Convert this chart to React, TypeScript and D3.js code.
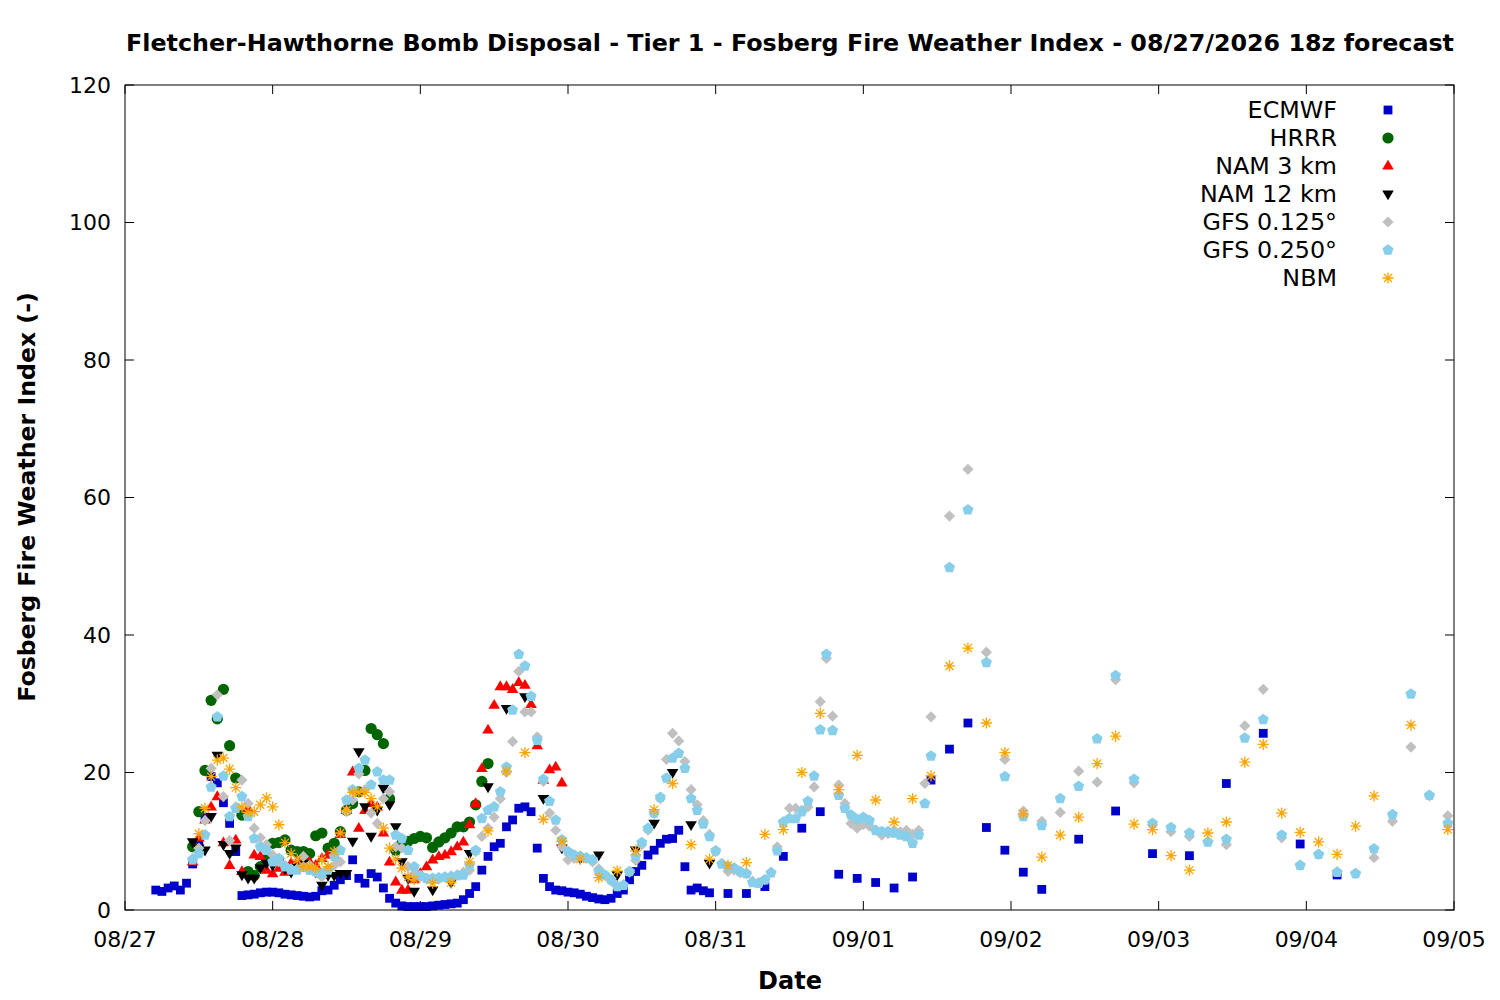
import React from "react";
import * as d3 from "d3";

// hours after 08/27 00z, Fosberg index
const T0 = Date.UTC(2026, 7, 27);
const toDate = (h: number) => new Date(T0 + h * 3600e3);

const ecmwf: [number, number][] = [
  [5, 2.9], [6, 2.7], [7, 3.2], [8, 3.5], [9, 2.9], [10, 3.9], [11, 6.7], [12, 9.5], [13, 13.5], [14, 19.4],
  [15, 18.5], [16, 15.6], [17, 12.6], [18, 8.5], [19, 2.1], [20, 2.2], [21, 2.3], [22, 2.5], [23, 2.6], [24, 2.6],
  [25, 2.5], [26, 2.3], [27, 2.2], [28, 2.1], [29, 2.0], [30, 1.9], [31, 2.0], [32, 2.8], [33, 2.9], [34, 3.6],
  [35, 4.4], [36, 5.0], [37, 7.3], [38, 4.6], [39, 3.9], [40, 5.3], [41, 4.8], [42, 3.2], [43, 1.7], [44, 1.0],
  [45, 0.6], [46, 0.5], [47, 0.5], [48, 0.5], [49, 0.5], [50, 0.6], [51, 0.7], [52, 0.8], [53, 0.9], [54, 1.0],
  [55, 1.5], [56, 2.4], [57, 3.4], [58, 5.8], [59, 7.8], [60, 9.2], [61, 9.7], [62, 12.1], [63, 13.1], [64, 14.8],
  [65, 15.0], [66, 14.3], [67, 9.0], [68, 4.6], [69, 3.4], [70, 2.9], [71, 2.8], [72, 2.6], [73, 2.5], [74, 2.3],
  [75, 2.0], [76, 1.8], [77, 1.6], [78, 1.5], [79, 1.7], [80, 2.4], [81, 2.9], [82, 4.4], [83, 5.6], [84, 6.5],
  [85, 8.0], [86, 8.7], [87, 9.7], [88, 10.3], [89, 10.4], [90, 11.6], [91, 6.3], [92, 2.9], [93, 3.2], [94, 2.8],
  [95, 2.5], [98, 2.4], [101, 2.4], [104, 3.4], [107, 7.8], [110, 11.9], [113, 14.3], [116, 5.2], [119, 4.6],
  [122, 4.0], [125, 3.2], [128, 4.8], [131, 18.9], [134, 23.4], [137, 27.2], [140, 12.0], [143, 8.7], [146, 5.5],
  [149, 3.0], [155, 10.3], [161, 14.4], [167, 8.2], [173, 7.9], [179, 18.4], [185, 25.7], [191, 9.6], [197, 5.1],
];

const hrrr: [number, number][] = [
  [11, 9.2], [12, 14.3], [13, 20.3], [14, 30.5], [15, 27.8], [16, 32.1], [17, 23.9], [18, 19.2], [19, 13.8],
  [20, 5.6], [21, 5.0], [22, 6.3], [23, 7.5], [24, 9.7], [25, 9.8], [26, 10.2], [27, 8.7], [28, 8.5], [29, 8.5],
  [30, 8.2], [31, 10.8], [32, 11.2], [33, 9.0], [34, 9.7], [35, 11.4], [36, 14.5], [37, 15.5], [38, 17.2],
  [39, 20.3], [40, 26.4], [41, 25.5], [42, 24.2], [43, 16.2], [44, 8.7], [45, 9.7], [46, 10.0], [47, 10.4],
  [48, 10.7], [49, 10.5], [50, 9.1], [51, 9.9], [52, 10.5], [53, 11.2], [54, 12.1], [55, 12.1], [56, 12.8],
  [57, 15.3], [58, 18.7], [59, 21.3],
];

const nam3: [number, number][] = [
  [11, 7.0], [12, 10.5], [13, 13.1], [14, 15.0], [15, 16.5], [16, 9.8], [17, 6.5], [18, 10.2], [19, 5.6],
  [20, 14.8], [21, 8.0], [22, 7.8], [23, 5.8], [24, 5.3], [25, 6.1], [26, 5.5], [27, 6.8], [28, 7.0], [29, 7.8],
  [30, 7.0], [31, 6.5], [32, 7.5], [33, 8.0], [34, 8.0], [35, 11.0], [36, 14.5], [37, 20.1], [38, 11.9],
  [39, 14.5], [40, 15.5], [41, 15.0], [42, 11.2], [43, 7.0], [44, 4.1], [45, 2.9], [46, 2.9], [47, 4.4],
  [48, 5.3], [49, 6.3], [50, 7.3], [51, 7.8], [52, 8.0], [53, 8.5], [54, 9.2], [55, 9.9], [56, 12.4], [57, 15.5],
  [58, 20.6], [59, 26.2], [60, 29.8], [61, 32.5], [62, 32.5], [63, 32.1], [64, 33.1], [65, 32.7], [66, 29.9],
  [67, 23.9], [68, 18.9], [69, 20.4], [70, 20.8], [71, 18.5],
];

const nam12: [number, number][] = [
  [11, 9.9], [12, 9.0], [13, 8.7], [14, 13.6], [15, 22.5], [16, 9.5], [17, 8.2], [18, 9.0], [19, 5.1],
  [20, 4.6], [21, 4.6], [22, 6.1], [23, 6.8], [24, 6.5], [25, 7.0], [26, 6.0], [27, 5.5], [28, 6.2], [29, 6.8],
  [30, 6.0], [31, 5.5], [32, 3.6], [33, 5.0], [34, 5.0], [35, 5.3], [36, 5.3], [37, 10.0], [38, 23.0],
  [39, 15.0], [40, 10.7], [41, 14.5], [42, 17.7], [43, 15.3], [44, 12.1], [45, 7.0], [46, 4.6], [47, 2.7],
  [50, 2.9], [53, 4.0], [56, 8.2], [59, 17.9], [62, 29.3], [65, 31.0], [68, 16.2], [71, 9.0], [74, 7.5],
  [77, 8.0], [80, 5.1], [83, 8.7], [86, 12.6], [89, 20.0], [92, 12.4], [95, 6.8],
];

const gfs0125: [number, number][] = [
  [11, 7.5], [12, 9.0], [13, 13.0], [14, 20.6], [15, 31.3], [16, 16.5], [17, 10.1], [18, 15.0], [19, 18.9],
  [20, 15.5], [21, 11.9], [22, 10.5], [23, 9.5], [24, 8.0], [25, 7.0], [26, 6.5], [27, 6.0], [28, 6.0], [29, 7.8],
  [30, 6.5], [31, 5.5], [32, 4.8], [33, 6.0], [34, 6.5], [35, 7.0], [36, 14.3], [37, 16.0], [38, 19.8],
  [39, 17.5], [40, 14.1], [41, 12.6], [42, 16.2], [43, 17.2], [44, 9.2], [45, 9.0], [46, 6.3], [47, 5.3],
  [48, 4.8], [49, 4.5], [50, 4.4], [51, 4.5], [52, 4.8], [53, 5.0], [54, 5.1], [55, 5.5], [56, 5.8], [57, 8.5],
  [58, 10.7], [59, 11.9], [60, 13.5], [61, 16.2], [62, 20.0], [63, 24.5], [64, 34.7], [65, 28.8], [66, 28.8],
  [67, 25.2], [68, 18.7], [69, 14.1], [70, 11.6], [71, 9.2], [72, 7.3], [73, 7.5], [74, 7.8], [75, 7.5],
  [76, 7.0], [77, 6.0], [78, 5.0], [79, 4.2], [80, 3.5], [81, 3.7], [82, 5.5], [83, 7.2], [84, 9.5], [85, 11.6],
  [86, 14.0], [87, 16.2], [88, 21.9], [89, 25.7], [90, 24.6], [91, 21.6], [92, 17.5], [93, 15.3], [94, 13.0],
  [95, 11.0], [96, 8.5], [97, 6.8], [98, 5.6], [99, 5.8], [100, 5.4], [101, 5.3], [102, 4.2], [103, 4.0],
  [104, 4.4], [105, 5.5], [106, 9.2], [107, 12.8], [108, 14.8], [109, 14.8], [110, 14.5], [111, 15.0],
  [112, 17.9], [113, 30.3], [114, 36.6], [115, 28.2], [116, 18.2], [117, 15.5], [118, 12.6], [119, 11.9],
  [120, 12.4], [121, 12.2], [122, 11.6], [123, 10.9], [124, 11.1], [125, 11.6], [126, 11.4], [127, 11.6],
  [128, 11.0], [129, 11.6], [130, 18.4], [131, 28.1], [134, 57.3], [137, 64.1], [140, 37.5], [143, 21.9],
  [146, 14.4], [149, 12.9], [152, 14.2], [155, 20.2], [158, 18.6], [161, 33.5], [164, 18.5], [167, 12.4],
  [170, 11.4], [173, 10.7], [176, 10.0], [179, 9.5], [182, 26.8], [185, 32.1], [188, 10.5], [191, 6.5],
  [194, 8.1], [197, 5.6], [200, 5.3], [203, 7.6], [206, 12.9], [209, 23.7], [212, 16.6], [215, 13.7],
];

const gfs0250: [number, number][] = [
  [11, 7.3], [12, 8.2], [13, 10.9], [14, 17.9], [15, 28.1], [16, 19.5], [17, 13.6], [18, 14.8], [19, 16.5],
  [20, 13.6], [21, 10.4], [22, 9.2], [23, 8.7], [24, 7.0], [25, 7.5], [26, 6.3], [27, 5.8], [28, 5.8], [29, 6.2],
  [30, 5.8], [31, 5.6], [32, 5.3], [33, 5.8], [34, 7.8], [35, 8.7], [36, 16.0], [37, 17.5], [38, 20.6],
  [39, 21.8], [40, 18.2], [41, 20.1], [42, 18.9], [43, 18.9], [44, 10.9], [45, 10.4], [46, 8.7], [47, 6.3],
  [48, 5.0], [49, 4.6], [50, 4.6], [51, 4.7], [52, 4.8], [53, 4.8], [54, 5.0], [55, 5.1], [56, 6.5], [57, 8.7],
  [58, 13.3], [59, 14.5], [60, 15.0], [61, 17.2], [62, 20.8], [63, 29.1], [64, 37.2], [65, 35.5], [66, 31.1],
  [67, 24.7], [68, 19.0], [69, 15.8], [70, 13.1], [71, 10.2], [72, 8.5], [73, 8.0], [74, 7.8], [75, 7.6],
  [76, 7.3], [77, 5.6], [78, 5.1], [79, 4.4], [80, 3.4], [81, 3.6], [82, 5.6], [83, 7.8], [84, 9.8], [85, 11.9],
  [86, 14.1], [87, 16.4], [88, 19.2], [89, 22.1], [90, 22.8], [91, 20.6], [92, 16.2], [93, 14.5], [94, 12.5],
  [95, 10.7], [96, 8.6], [97, 6.7], [98, 6.3], [99, 6.1], [100, 5.6], [101, 5.3], [102, 4.0], [103, 3.9],
  [104, 4.4], [105, 5.4], [106, 8.6], [107, 12.8], [108, 13.3], [109, 13.3], [110, 14.3], [111, 15.8],
  [112, 19.5], [113, 26.2], [114, 37.2], [115, 26.1], [116, 16.7], [117, 14.8], [118, 13.8], [119, 13.2],
  [120, 13.5], [121, 13.0], [122, 11.6], [123, 11.4], [124, 11.4], [125, 11.2], [126, 10.9], [127, 10.7],
  [128, 9.7], [129, 10.9], [130, 15.5], [131, 22.4], [134, 49.8], [137, 58.2], [140, 36.0], [143, 19.4],
  [146, 13.6], [149, 12.3], [152, 16.2], [155, 18.0], [158, 24.9], [161, 34.1], [164, 19.0], [167, 12.6],
  [170, 12.0], [173, 11.2], [176, 9.9], [179, 10.3], [182, 25.0], [185, 27.7], [188, 10.9], [191, 6.5],
  [194, 8.1], [197, 5.5], [200, 5.3], [203, 8.9], [206, 13.9], [209, 31.4], [212, 16.7], [215, 12.6],
];

const nbm: [number, number][] = [
  [12, 11.1], [13, 14.8], [14, 19.4], [15, 21.8], [16, 22.1], [17, 20.5], [18, 17.8], [19, 15.0], [20, 14.2],
  [21, 14.3], [22, 15.3], [23, 16.3], [24, 15.0], [25, 12.4], [26, 9.8], [27, 8.2], [28, 7.3], [29, 6.3],
  [30, 6.3], [31, 6.1], [32, 7.3], [33, 6.3], [34, 8.5], [35, 11.2], [36, 14.5], [37, 17.1], [38, 17.1],
  [39, 17.1], [40, 16.2], [41, 15.0], [42, 11.9], [43, 9.0], [44, 7.4], [45, 6.1], [46, 4.8], [47, 4.4],
  [50, 3.9], [53, 4.0], [56, 7.0], [59, 11.5], [62, 20.2], [65, 22.9], [68, 13.2], [71, 10.0], [74, 7.4],
  [77, 4.7], [80, 5.7], [83, 8.6], [86, 14.6], [89, 18.4], [92, 9.5], [95, 7.4], [98, 6.5], [101, 6.9],
  [104, 11.0], [107, 11.7], [110, 20.0], [113, 28.6], [116, 17.5], [119, 22.5], [122, 16.0], [125, 12.8],
  [128, 16.2], [131, 19.5], [134, 35.5], [137, 38.1], [140, 27.2], [143, 22.9], [146, 14.0], [149, 7.7],
  [152, 10.9], [155, 13.5], [158, 21.3], [161, 25.3], [164, 12.5], [167, 11.7], [170, 7.9], [173, 5.8],
  [176, 11.2], [179, 12.8], [182, 21.5], [185, 24.1], [188, 14.1], [191, 11.3], [194, 9.9], [197, 8.1],
  [200, 12.2], [203, 16.6], [209, 26.9], [215, 11.7],
];

type Shape = "square" | "circle" | "triUp" | "triDown" | "diamond" | "pentagon" | "star";

const series: { name: string; data: [number, number][]; color: string; shape: Shape }[] = [
  { name: "ECMWF", data: ecmwf, color: "#0000cd", shape: "square" },
  { name: "HRRR", data: hrrr, color: "#006400", shape: "circle" },
  { name: "NAM 3 km", data: nam3, color: "#ff0000", shape: "triUp" },
  { name: "NAM 12 km", data: nam12, color: "#000000", shape: "triDown" },
  { name: "GFS 0.125°", data: gfs0125, color: "#c0c0c0", shape: "diamond" },
  { name: "GFS 0.250°", data: gfs0250, color: "#87ceeb", shape: "pentagon" },
  { name: "NBM", data: nbm, color: "#ffa500", shape: "star" },
];

const pentagon = d3.range(5).map((k) => {
  const a = -Math.PI / 2 + (k * 2 * Math.PI) / 5;
  return [5.8 * Math.cos(a), 5.8 * Math.sin(a)];
});

const shapePath: Record<Shape, string> = {
  square: "M-4.4,-4.4h8.8v8.8h-8.8Z",
  circle: "M5.6,0A5.6,5.6 0 1,1 -5.6,0A5.6,5.6 0 1,1 5.6,0Z",
  triUp: "M0,-6.2L5.8,3.6L-5.8,3.6Z",
  triDown: "M0,6.2L5.8,-3.6L-5.8,-3.6Z",
  diamond: "M0,-5.6L5.6,0L0,5.6L-5.6,0Z",
  pentagon: "M" + pentagon.map((p) => p.join(",")).join("L") + "Z",
  star: "M-5.6,0H5.6M0,-5.6V5.6M-4,-4L4,4M-4,4L4,-4",
};

const Marker = ({ shape, color, x, y }: { shape: Shape; color: string; x: number; y: number }) =>
  shape === "star" ? (
    <path d={shapePath.star} transform={`translate(${x},${y})`} stroke={color} strokeWidth={1.3} fill="none" />
  ) : (
    <path d={shapePath[shape]} transform={`translate(${x},${y})`} fill={color} />
  );

export default function App() {
  const width = 1500;
  const height = 1000;
  const left = 125;
  const right = 1454;
  const top = 85;
  const bottom = 910;

  const x = d3.scaleUtc().domain([toDate(0), toDate(216)]).range([left, right]);
  const y = d3.scaleLinear().domain([0, 120]).range([bottom, top]);
  const xTicks = x.ticks(d3.utcDay.every(1)!);
  const yTicks = d3.range(0, 121, 20);
  const fmt = d3.utcFormat("%m/%d");
  const font = "DejaVu Sans";
  const tick = 9;

  return (
    <svg
      width={width}
      height={height}
      style={{ position: "absolute", left: 0, top: 0, background: "#fff" }}
      fontFamily={font}
    >
      <text x={790} y={51} textAnchor="middle" fontWeight="bold" fontSize={23.8}>
        Fletcher-Hawthorne Bomb Disposal - Tier 1 - Fosberg Fire Weather Index - 08/27/2026 18z forecast
      </text>

      {/* ticks, mirrored inside */}
      <g stroke="#000" strokeWidth={1}>
        {yTicks.map((t) => (
          <g key={t}>
            <line x1={left} x2={left + tick} y1={y(t)} y2={y(t)} />
            <line x1={right} x2={right - tick} y1={y(t)} y2={y(t)} />
          </g>
        ))}
        {xTicks.map((t) => (
          <g key={+t}>
            <line x1={x(t)} x2={x(t)} y1={bottom} y2={bottom - tick} />
            <line x1={x(t)} x2={x(t)} y1={top} y2={top + tick} />
          </g>
        ))}
      </g>

      <g fontSize={22}>
        {yTicks.map((t) => (
          <text key={t} x={left - 14} y={y(t)} dy="0.35em" textAnchor="end">
            {t}
          </text>
        ))}
        {xTicks.map((t) => (
          <text key={+t} x={x(t)} y={bottom + 37} textAnchor="middle">
            {fmt(t)}
          </text>
        ))}
      </g>

      <text x={790} y={989} textAnchor="middle" fontWeight="bold" fontSize={24}>
        Date
      </text>
      <text
        transform="translate(35,497) rotate(-90)"
        textAnchor="middle"
        fontWeight="bold"
        fontSize={23.6}
      >
        Fosberg Fire Weather Index (-)
      </text>

      {series.map((s) => (
        <g key={s.name}>
          {s.data.map(([h, v]) => (
            <Marker key={h} shape={s.shape} color={s.color} x={x(toDate(h))} y={y(v)} />
          ))}
        </g>
      ))}

      <g fontSize={23.8}>
        {series.map((s, i) => (
          <g key={s.name}>
            <text x={1337} y={110 + i * 28} dy="0.35em" textAnchor="end">
              {s.name}
            </text>
            <Marker shape={s.shape} color={s.color} x={1388} y={110 + i * 28} />
          </g>
        ))}
      </g>

      <rect x={left} y={top} width={right - left} height={bottom - top} fill="none" stroke="#000" strokeWidth={1} />
    </svg>
  );
}
